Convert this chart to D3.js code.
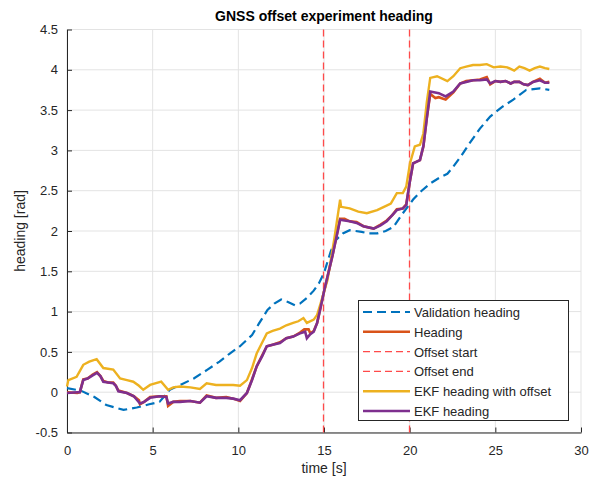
<!DOCTYPE html>
<html>
<head>
<meta charset="utf-8">
<script src="https://cdn.jsdelivr.net/npm/d3@7"></script>
<style>
  body { margin: 0; background: #fff; }
  text { font-family: "Liberation Sans", Arial, sans-serif; fill: #262626; }
</style>
</head>
<body>
<script>
// values, [time s, heading rad]
var validationHeading = [
  [0, 0.05], [0.8, 0.02], [1.6, -0.06], [2.3, -0.16], [3.3, -0.22], [4.07, -0.19],
  [4.8, -0.15], [5.4, -0.12], [6.0, 0.03], [6.7, 0.1], [7.4, 0.17], [8.2, 0.28],
  [8.9, 0.38], [9.5, 0.48], [10.1, 0.57], [10.8, 0.71], [11.2, 0.85], [11.7, 1.02],
  [12.1, 1.1], [12.5, 1.15], [12.9, 1.12], [13.3, 1.08], [13.6, 1.1], [14.0, 1.17],
  [14.4, 1.26], [14.7, 1.35], [15.0, 1.48], [15.4, 1.75], [15.7, 1.89], [16.1, 1.97],
  [16.5, 2.01], [17.2, 1.99], [17.6, 1.97], [18.1, 1.97], [18.6, 2.0], [19.05, 2.05],
  [19.6, 2.22], [20.2, 2.39], [20.7, 2.5], [21.2, 2.59], [21.8, 2.67], [22.2, 2.71],
  [22.55, 2.8], [23.0, 2.93], [23.5, 3.09], [24.1, 3.27], [24.7, 3.42], [25.4, 3.54],
  [26.05, 3.63], [26.8, 3.75], [27.6, 3.77], [28.15, 3.75]
];

var heading = [
  [0, 0.0], [0.6, -0.01], [0.75, 0.0], [0.95, 0.16], [1.2, 0.17], [1.5, 0.22], [1.75, 0.25],
  [1.95, 0.2], [2.12, 0.14], [2.4, 0.12], [2.7, 0.12], [2.85, 0.08], [3.0, 0.02], [3.5, -0.01],
  [3.9, -0.05], [4.2, -0.1], [4.26, -0.15], [4.5, -0.12], [4.85, -0.06], [5.4, -0.05],
  [5.8, -0.05], [5.9, -0.17], [6.2, -0.12], [6.6, -0.11], [7.2, -0.11], [7.76, -0.13],
  [8.15, -0.04], [8.7, -0.07], [9.3, -0.06], [9.7, -0.08], [10.1, -0.11], [10.5, -0.01],
  [10.8, 0.16], [11.07, 0.32], [11.4, 0.46], [11.66, 0.57], [12.0, 0.59], [12.43, 0.62],
  [12.8, 0.67], [13.2, 0.69], [13.6, 0.74], [13.85, 0.78], [14.1, 0.78], [14.2, 0.73],
  [14.4, 0.76], [14.6, 0.86], [14.8, 1.05], [15.0, 1.25], [15.5, 1.7], [15.94, 2.15],
  [16.2, 2.15], [16.5, 2.12], [16.9, 2.11], [17.3, 2.06], [17.9, 2.03], [18.3, 2.08],
  [18.66, 2.13], [19.0, 2.2], [19.25, 2.27], [19.6, 2.28], [19.8, 2.33], [20.0, 2.6],
  [20.2, 2.84], [20.6, 2.88], [20.8, 3.05], [21.0, 3.4], [21.2, 3.7], [21.5, 3.65],
  [21.7, 3.66], [22.1, 3.63], [22.55, 3.72], [22.95, 3.83], [23.3, 3.86], [23.7, 3.87],
  [24.1, 3.88], [24.5, 3.91], [24.7, 3.82], [25.0, 3.86], [25.3, 3.85], [25.6, 3.86],
  [25.9, 3.83], [26.1, 3.85], [26.4, 3.85], [26.65, 3.82], [26.9, 3.81], [27.2, 3.85],
  [27.6, 3.89], [27.9, 3.84], [28.15, 3.85]
];

var ekfHeadingOffset = [
  [0, 0.07], [0.08, 0.15], [0.56, 0.19], [0.95, 0.34], [1.3, 0.38], [1.73, 0.41],
  [2.12, 0.3], [2.7, 0.28], [3.1, 0.17], [3.5, 0.15], [3.87, 0.13], [4.2, 0.08],
  [4.45, 0.03], [4.85, 0.09], [5.5, 0.13], [5.9, 0.03], [6.2, 0.06], [6.6, 0.07],
  [7.2, 0.06], [7.76, 0.04], [8.15, 0.11], [8.7, 0.09], [9.3, 0.09], [9.7, 0.09],
  [10.1, 0.08], [10.5, 0.15], [10.8, 0.3], [11.07, 0.48], [11.4, 0.62], [11.66, 0.73],
  [12.0, 0.76], [12.43, 0.79], [12.8, 0.83], [13.2, 0.86], [13.5, 0.88], [13.8, 0.92],
  [14.0, 0.86], [14.4, 0.9], [14.6, 0.96], [14.8, 1.1], [15.2, 1.39], [15.6, 1.9],
  [15.94, 2.39], [16.0, 2.3], [16.5, 2.28], [17.0, 2.24], [17.5, 2.22], [18.1, 2.26],
  [18.5, 2.3], [18.9, 2.34], [19.25, 2.47], [19.6, 2.47], [19.8, 2.55], [20.02, 2.84],
  [20.3, 3.05], [20.6, 3.07], [20.8, 3.21], [21.0, 3.6], [21.2, 3.9], [21.6, 3.92],
  [22.2, 3.86], [22.55, 3.92], [22.95, 4.02], [23.3, 4.04], [23.7, 4.06], [24.1, 4.06],
  [24.5, 4.07], [24.9, 4.03], [25.3, 4.04], [25.7, 4.03], [26.1, 3.99], [26.4, 4.04],
  [26.7, 4.02], [27.0, 3.99], [27.3, 4.02], [27.6, 4.04], [27.9, 4.02], [28.15, 4.01]
];

var ekfHeading = [
  [0, -0.01], [0.6, 0.0], [0.75, 0.0], [0.95, 0.15], [1.2, 0.17], [1.5, 0.21], [1.75, 0.24],
  [1.95, 0.2], [2.12, 0.13], [2.4, 0.12], [2.7, 0.11], [2.85, 0.08], [3.0, 0.01], [3.5, -0.01],
  [3.9, -0.05], [4.26, -0.14], [4.5, -0.12], [4.85, -0.07], [5.4, -0.05], [5.8, -0.06],
  [5.9, -0.14], [6.2, -0.12], [6.6, -0.12], [7.2, -0.11], [7.76, -0.13], [8.15, -0.05],
  [8.7, -0.07], [9.3, -0.07], [9.7, -0.08], [10.1, -0.1], [10.5, -0.01], [10.8, 0.15],
  [11.07, 0.32], [11.4, 0.45], [11.66, 0.57], [12.0, 0.59], [12.43, 0.61], [12.8, 0.67],
  [13.2, 0.69], [13.6, 0.73], [13.9, 0.75], [14.0, 0.67], [14.2, 0.72], [14.4, 0.75],
  [14.6, 0.86], [14.8, 1.05], [15.0, 1.25], [15.5, 1.7], [15.94, 2.14], [16.2, 2.13],
  [16.5, 2.12], [16.9, 2.1], [17.3, 2.06], [17.9, 2.03], [18.3, 2.07], [18.66, 2.12],
  [19.0, 2.2], [19.25, 2.26], [19.6, 2.28], [19.8, 2.32], [20.0, 2.6], [20.2, 2.84],
  [20.6, 2.88], [20.8, 3.05], [21.0, 3.4], [21.2, 3.73], [21.7, 3.71], [22.1, 3.67],
  [22.55, 3.73], [22.95, 3.83], [23.3, 3.85], [23.7, 3.87], [24.1, 3.87], [24.5, 3.88],
  [24.7, 3.83], [25.0, 3.86], [25.3, 3.85], [25.6, 3.86], [25.9, 3.83], [26.1, 3.85],
  [26.4, 3.85], [26.65, 3.82], [26.9, 3.81], [27.2, 3.85], [27.6, 3.87], [27.9, 3.84],
  [28.15, 3.84]
];

var offsetStart = 15;
var offsetEnd = 20;

var xTicks = [0, 5, 10, 15, 20, 25, 30];
var yTicks = [-0.5, 0, 0.5, 1, 1.5, 2, 2.5, 3, 3.5, 4, 4.5];

var legendLabels = ["Validation heading", "Heading", "Offset start", "Offset end",
  "EKF heading with offset", "EKF heading"];

var width = 592, height = 488;
var plotLeft = 67, plotRight = 581, plotTop = 29.5, plotBottom = 432.5;
var offsetColor = "#ff4a4a";

var svg = d3.select("body").append("svg")
  .attr("width", width)
  .attr("height", height);

var x = d3.scaleLinear().domain([0, 30]).range([plotLeft, plotRight]);
var y = d3.scaleLinear().domain([-0.5, 4.5]).range([plotBottom, plotTop]);

// grid
svg.selectAll(".gx").data(xTicks).enter().append("line")
  .attr("x1", function (d) { return x(d); })
  .attr("x2", function (d) { return x(d); })
  .attr("y1", plotTop).attr("y2", plotBottom)
  .attr("stroke", "#e3e3e3").attr("stroke-width", 1);
svg.selectAll(".gy").data(yTicks).enter().append("line")
  .attr("x1", plotLeft).attr("x2", plotRight)
  .attr("y1", function (d) { return y(d); })
  .attr("y2", function (d) { return y(d); })
  .attr("stroke", "#e3e3e3").attr("stroke-width", 1);

// axes, ticks pointing inwards
var xAxis = svg.append("g").attr("transform", "translate(0," + plotBottom + ")")
  .call(d3.axisBottom(x).tickValues(xTicks).tickSizeInner(-5).tickSizeOuter(0).tickPadding(13));
var yAxis = svg.append("g").attr("transform", "translate(" + plotLeft + ",0)")
  .call(d3.axisLeft(y).tickValues(yTicks).tickSizeInner(-5).tickSizeOuter(0).tickPadding(9)
    .tickFormat(function (d) { return d; }));
[xAxis, yAxis].forEach(function (g) {
  g.select(".domain").attr("stroke", "#262626");
  g.selectAll(".tick line").attr("stroke", "#262626");
  g.selectAll("text").attr("font-size", 13).attr("fill", "#262626")
    .style("font-family", "'Liberation Sans', Arial, sans-serif");
});

var line = d3.line()
  .x(function (d) { return x(d[0]); })
  .y(function (d) { return y(d[1]); });

var plot = svg.append("g");

plot.append("path").datum(validationHeading)
  .attr("d", line).attr("fill", "none")
  .attr("stroke", "#0072BD").attr("stroke-width", 2.2)
  .attr("stroke-dasharray", "9,5");

plot.append("path").datum(heading)
  .attr("d", line).attr("fill", "none")
  .attr("stroke", "#D95319").attr("stroke-width", 2.6);

[offsetStart, offsetEnd].forEach(function (t) {
  plot.append("line")
    .attr("x1", Math.round(x(t)) - 0.5).attr("x2", Math.round(x(t)) - 0.5)
    .attr("y1", plotTop).attr("y2", plotBottom)
    .attr("stroke", offsetColor).attr("stroke-width", 1.3)
    .attr("stroke-dasharray", "7,4");
});

plot.append("path").datum(ekfHeadingOffset)
  .attr("d", line).attr("fill", "none")
  .attr("stroke", "#EDB120").attr("stroke-width", 2.4);

plot.append("path").datum(ekfHeading)
  .attr("d", line).attr("fill", "none")
  .attr("stroke", "#7E2F8E").attr("stroke-width", 2.6);

// title and labels
svg.append("text").attr("x", (plotLeft + plotRight) / 2).attr("y", 21)
  .attr("text-anchor", "middle").attr("font-size", 14).attr("font-weight", "bold")
  .style("fill", "#000")
  .text("GNSS offset experiment heading");
svg.append("text").attr("x", (plotLeft + plotRight) / 2).attr("y", 473)
  .attr("text-anchor", "middle").attr("font-size", 14)
  .text("time [s]");
svg.append("text")
  .attr("transform", "translate(25," + ((plotTop + plotBottom) / 2) + ") rotate(-90)")
  .attr("text-anchor", "middle").attr("font-size", 14)
  .text("heading [rad]");

// legend
var legendStyles = [
  {stroke: "#0072BD", width: 2.2, dash: "9,5"},
  {stroke: "#D95319", width: 2.6, dash: null},
  {stroke: offsetColor, width: 1.3, dash: "7,4"},
  {stroke: offsetColor, width: 1.3, dash: "7,4"},
  {stroke: "#EDB120", width: 2.4, dash: null},
  {stroke: "#7E2F8E", width: 2.6, dash: null}
];
var legend = svg.append("g");
legend.append("rect")
  .attr("x", 358.5).attr("y", 300.5).attr("width", 210).attr("height", 120)
  .attr("fill", "#fff").attr("stroke", "#262626").attr("stroke-width", 1);
var entries = legend.selectAll(".entry").data(legendLabels).enter().append("g")
  .attr("transform", function (d, i) { return "translate(0," + (312 + i * 19.8) + ")"; });
entries.append("line")
  .attr("x1", 363).attr("x2", 410).attr("y1", 0).attr("y2", 0)
  .attr("stroke", function (d, i) { return legendStyles[i].stroke; })
  .attr("stroke-width", function (d, i) { return legendStyles[i].width; })
  .attr("stroke-dasharray", function (d, i) { return legendStyles[i].dash; });
entries.append("text")
  .attr("x", 414).attr("y", 5)
  .attr("font-size", 13)
  .text(function (d) { return d; });
</script>
</body>
</html>
